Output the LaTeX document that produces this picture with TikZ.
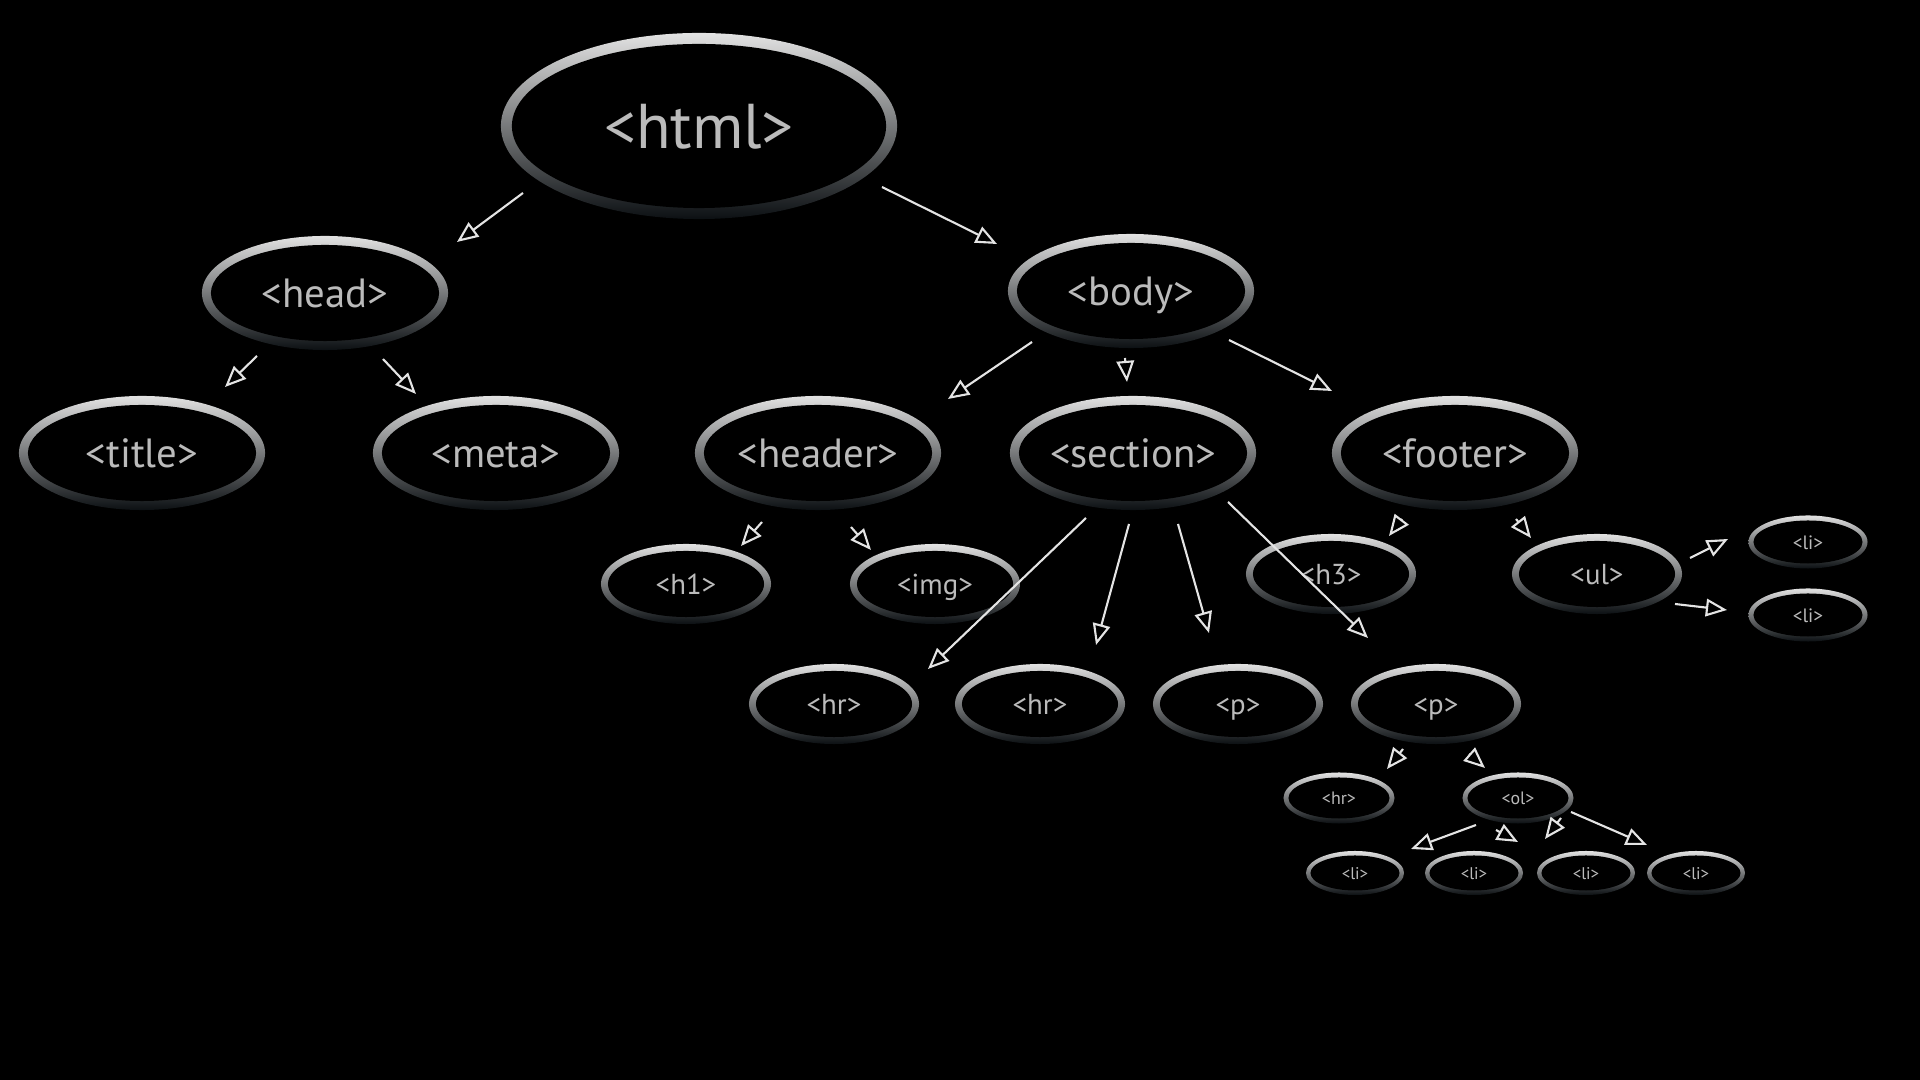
\documentclass[tikz,border=0pt]{standalone}
\usepackage{fontspec}
\setmainfont{PT Sans}
\usetikzlibrary{shapes.geometric,arrows.meta,calc}
\definecolor{ringtop}{HTML}{E2E2E2}
\definecolor{ringbot}{HTML}{0C1013}
\definecolor{tagtext}{HTML}{BBBBBB}
\definecolor{arrline}{HTML}{E4E4E4}
\tikzset{
  ringw/.store in=\ringw, ringw=0.06cm,
  tag/.style={ellipse, inner sep=0pt, top color=ringtop, bottom color=ringbot, text=tagtext, text depth=0pt,
    path picture={\fill[black] let \p1=(path picture bounding box.north east),
      \p2=(path picture bounding box.south west) in
      (path picture bounding box.center) ellipse [x radius={(\x1-\x2)/2-\ringw}, y radius={(\y1-\y2)/2-\ringw}];}},
  root/.style={tag, minimum width=3.96cm, minimum height=1.86cm, ringw=0.11cm, text height=13pt, font=\fontsize{18}{21}\selectfont},
  big/.style={tag, minimum width=2.46cm, minimum height=1.14cm, ringw=0.09cm, text height=8.4pt, font=\fontsize{11.6}{13}\selectfont},
  mid/.style={tag, minimum width=1.70cm, minimum height=0.80cm, ringw=0.07cm, text height=5.9pt, font=\fontsize{8.2}{9}\selectfont},
  small/.style={tag, minimum width=1.11cm, minimum height=0.51cm, ringw=0.05cm, text height=3.7pt, font=\fontsize{5.1}{6}\selectfont},
  smallli/.style={tag, minimum width=1.19cm, minimum height=0.53cm, ringw=0.05cm, text height=4pt, font=\fontsize{5.5}{6}\selectfont},
  tiny/.style={tag, minimum width=0.98cm, minimum height=0.44cm, ringw=0.045cm, text height=3.5pt, font=\fontsize{4.8}{5}\selectfont},
  arr/.style={draw=arrline, line width=0.6pt, -{Triangle[open, length=6pt, width=5pt]}}
}
\begin{document}
\begin{tikzpicture}[x=0.01cm, y=-0.01cm]
    \useasboundingbox (0,0) rectangle (1920,1080);
    \fill[black] (0,0) rectangle (1920,1080);
    % level 0 and 1
    \node[root] (html) at (699,126) {<html>};
    \node[big] (head) at (325,293) {<head>};
    \node[big] (body) at (1131,291) {<body>};
    % level 2
    \node[big] (title) at (142,453) {<title>};
    \node[big] (meta) at (496,453) {<meta>};
    \node[big] (header) at (818,453) {<header>};
    \node[big] (section) at (1133,453) {<section>};
    \node[big] (footer) at (1455,453) {<footer>};
    % level 3
    \node[mid] (h1) at (686,584) {<h1>};
    \node[mid] (img) at (935,584) {<img>};
    \node[mid] (h3) at (1331,574) {<h3>};
    \node[mid] (ul) at (1597,574) {<ul>};
    \node[smallli] (li1) at (1808,542) {<li>};
    \node[smallli] (li2) at (1808,615) {<li>};
    \node[mid] (hr1) at (834,704) {<hr>};
    \node[mid] (hr2) at (1040,704) {<hr>};
    \node[mid] (p1) at (1238,704) {<p>};
    \node[mid] (p2) at (1436,704) {<p>};
    % level 4 and 5
    \node[small] (hr3) at (1339,798) {<hr>};
    \node[small] (ol) at (1518,798) {<ol>};
    \node[tiny] (oli1) at (1355,873) {<li>};
    \node[tiny] (oli2) at (1474,873) {<li>};
    \node[tiny] (oli3) at (1586,873) {<li>};
    \node[tiny] (oli4) at (1696,873) {<li>};
    % arrows
    \draw[arr] ([shift={(-176,67)}]html.center) -- ([shift={(132,-51)}]head.center);
    \draw[arr] ([shift={(183,61)}]html.center) -- ([shift={(-134,-47)}]body.center);
    \draw[arr] ([shift={(-68,63)}]head.center) -- ([shift={(83,-66)}]title.center);
    \draw[arr] ([shift={(58,66)}]head.center) -- ([shift={(-80,-59)}]meta.center);
    \draw[arr] ([shift={(-99,51)}]body.center) -- ([shift={(130,-54)}]header.center);
    \draw[arr] ([shift={(-6,67)}]body.center) -- ([shift={(-6,-71)}]section.center);
    \draw[arr] ([shift={(98,49)}]body.center) -- ([shift={(-123,-62)}]footer.center);
    \draw[arr] ([shift={(-56,69)}]header.center) -- ([shift={(55,-38)}]h1.center);
    \draw[arr] ([shift={(33,74)}]header.center) -- ([shift={(-64,-34)}]img.center);
    \draw[arr] ([shift={(-47,65)}]section.center) -- ([shift={(94,-35)}]hr1.center);
    \draw[arr] ([shift={(-4,71)}]section.center) -- ([shift={(56,-59)}]hr2.center);
    \draw[arr] ([shift={(45,71)}]section.center) -- ([shift={(-29,-71)}]p1.center);
    \draw[arr] ([shift={(95,49)}]section.center) -- ([shift={(-68,-66)}]p2.center);
    \draw[arr] ([shift={(-53,66)}]footer.center) -- ([shift={(58,-38)}]h3.center);
    \draw[arr] ([shift={(61,66)}]footer.center) -- ([shift={(-66,-36)}]ul.center);
    \draw[arr] ([shift={(93,-16)}]ul.center) -- ([shift={(-80,-3)}]li1.center);
    \draw[arr] ([shift={(78,30)}]ul.center) -- ([shift={(-81,-5)}]li2.center);
    \draw[arr] ([shift={(-33,45)}]p2.center) -- ([shift={(48,-29)}]hr3.center);
    \draw[arr] ([shift={(33,50)}]p2.center) -- ([shift={(-33,-30)}]ol.center);
    \draw[arr] ([shift={(-42,27)}]ol.center) -- ([shift={(56,-24)}]oli1.center);
    \draw[arr] ([shift={(-22,32)}]ol.center) -- ([shift={(44,-31)}]oli2.center);
    \draw[arr] ([shift={(43,20)}]ol.center) -- ([shift={(-41,-34)}]oli3.center);
    \draw[arr] ([shift={(53,14)}]ol.center) -- ([shift={(-49,-28)}]oli4.center);
\end{tikzpicture}
\end{document}
